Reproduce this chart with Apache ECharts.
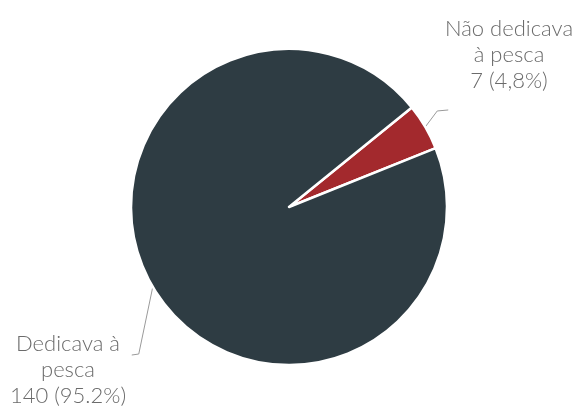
<!DOCTYPE html>
<html>
<head>
<meta charset="utf-8">
<script src="https://cdn.jsdelivr.net/npm/echarts@6/dist/echarts.min.js"></script>
<style>
html,body{margin:0;padding:0;background:#fff;}
#chart{width:579px;height:412px;}
</style>
</head>
<body>
<div id="chart"></div>
<script>
var categories = ["Não dedicava\nà pesca", "Dedicava à\npesca"];
var values = [7, 140];
var percentLabels = ["4,8%", "95.2%"];
var colors = ["#a3292d", "#2e3c43"];

// label placement (layout only)
var labelPos = [
  { x: 509, y: 55 },
  { x: 68, y: 370 }
];
// leader-line bends, as offsets from the slice edge point
var lineBends = [
  [[12, -16], [23, -17]],
  [[-14, 67], [-21, 68]]
];

var chart = echarts.init(document.getElementById('chart'));
chart.setOption({
  animation: false,
  series: [{
    type: 'pie',
    center: [289, 207],
    radius: 158,
    startAngle: 39,
    clockwise: true,
    data: categories.map(function (c, i) {
      return { name: c, value: values[i], itemStyle: { color: colors[i] } };
    }),
    itemStyle: { borderColor: '#ffffff', borderWidth: 2.5 },
    label: {
      show: true,
      position: 'outside',
      overflow: 'none',
      fontFamily: 'Lato, "Open Sans", sans-serif',
      fontWeight: 300,
      fontSize: 22,
      lineHeight: 26,
      color: '#6b6b6b',
      align: 'center',
      formatter: function (p) {
        return p.name + '\n' + p.value + ' (' + percentLabels[p.dataIndex] + ')';
      }
    },
    labelLine: {
      show: true,
      length: 15,
      length2: 10,
      lineStyle: { color: '#9a9a9a', width: 1 }
    },
    labelLayout: function (params) {
      var i = params.dataIndex;
      var pos = labelPos[i];
      var res = { x: pos.x, y: pos.y, align: 'center', verticalAlign: 'middle' };
      if (params.labelLinePoints && params.labelLinePoints.length) {
        var p0 = params.labelLinePoints[0];
        var pts = [[p0[0], p0[1]]];
        lineBends[i].forEach(function (o) { pts.push([p0[0] + o[0], p0[1] + o[1]]); });
        res.labelLinePoints = pts;
      }
      return res;
    }
  }]
});
</script>
</body>
</html>
